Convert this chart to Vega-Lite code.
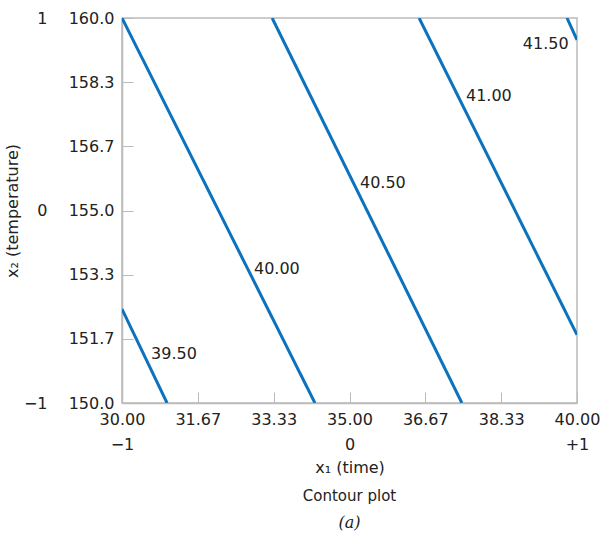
{
  "$schema": "https://vega.github.io/schema/vega-lite/v6.json",
  "width": 455,
  "height": 385,
  "autosize": "none",
  "padding": {"left": 122, "top": 18, "right": 23, "bottom": 131},
  "background": "white",
  "config": {
    "font": "DejaVu Sans",
    "view": {"stroke": "#bbbbbb", "strokeWidth": 1.5},
    "axis": {"grid": false, "labelFont": "DejaVu Sans", "labelFontSize": 16, "labelColor": "#222222", "titleFont": "DejaVu Sans", "titleFontSize": 16, "titleFontWeight": "normal", "titleColor": "#222222", "domainColor": "#bbbbbb", "tickColor": "#bbbbbb", "domainWidth": 1.5}
  },
  "datasets": {
    "contours": [
      {"level": "39.50", "x": 30.0, "y": 152.44},
      {"level": "39.50", "x": 30.99, "y": 150.0},
      {"level": "40.00", "x": 30.0, "y": 160.0},
      {"level": "40.00", "x": 34.24, "y": 150.0},
      {"level": "40.50", "x": 33.3, "y": 160.0},
      {"level": "40.50", "x": 37.47, "y": 150.0},
      {"level": "41.00", "x": 36.53, "y": 160.0},
      {"level": "41.00", "x": 40.0, "y": 151.77},
      {"level": "41.50", "x": 39.78, "y": 160.0},
      {"level": "41.50", "x": 40.0, "y": 159.43}
    ],
    "labels": [
      {"label": "39.50", "x": 30.64, "y": 151.27},
      {"label": "40.00", "x": 32.9, "y": 153.48},
      {"label": "40.50", "x": 35.23, "y": 155.71},
      {"label": "41.00", "x": 37.56, "y": 157.97},
      {"label": "41.50", "x": 38.81, "y": 159.32}
    ]
  },
  "layer": [
    {
      "data": {"name": "contours"},
      "mark": {"type": "line", "color": "#0b72bd", "strokeWidth": 3, "clip": true},
      "encoding": {
        "x": {"field": "x", "type": "quantitative", "scale": {"domain": [30, 40], "nice": false, "zero": false},
          "axis": {"orient": "bottom", "values": [30, 31.6667, 33.3333, 35, 36.6667, 38.3333, 40], "format": ".2f", "tickSize": -11, "labelPadding": 19, "title": null, "labelFlush": false}},
        "y": {"field": "y", "type": "quantitative", "scale": {"domain": [150, 160], "nice": false, "zero": false},
          "axis": {"orient": "left", "values": [150, 151.6667, 153.3333, 155, 156.6667, 158.3333, 160], "format": ".1f", "tickSize": -11, "labelPadding": 19, "title": null, "labelFlush": false}},
        "detail": {"field": "level"}
      }
    },
    {
      "data": {"name": "labels"},
      "mark": {"type": "text", "align": "left", "baseline": "middle", "fontSize": 16, "color": "#222222", "font": "DejaVu Sans"},
      "encoding": {
        "x": {"field": "x", "type": "quantitative",
          "axis": {"orient": "bottom", "values": [30, 35, 40], "labelExpr": "datum.value == 30 ? '−1' : datum.value == 35 ? '0' : '+1'", "domain": false, "ticks": false, "offset": 29, "labelPadding": 4, "labelFlush": false, "title": "x₁ (time)", "titlePadding": 7}},
        "y": {"field": "y", "type": "quantitative",
          "axis": {"orient": "left", "values": [150, 155, 160], "labelExpr": "datum.value == 150 ? '−1' : datum.value == 155 ? '0' : '1'", "domain": false, "ticks": false, "offset": 70, "labelPadding": 5, "labelFlush": false, "title": "x₂ (temperature)", "titlePadding": 3}},
        "text": {"field": "label"}
      }
    }
  ],
  "resolve": {"axis": {"x": "independent", "y": "independent"}},
  "title": {"text": "Contour plot", "subtitle": "(a)", "orient": "bottom", "anchor": "middle", "fontSize": 15, "fontWeight": "normal", "color": "#222222", "font": "DejaVu Sans", "subtitleFont": "DejaVu Serif", "subtitleFontStyle": "italic", "subtitleFontSize": 16, "subtitleColor": "#222222", "subtitlePadding": 11, "offset": 14}
}
